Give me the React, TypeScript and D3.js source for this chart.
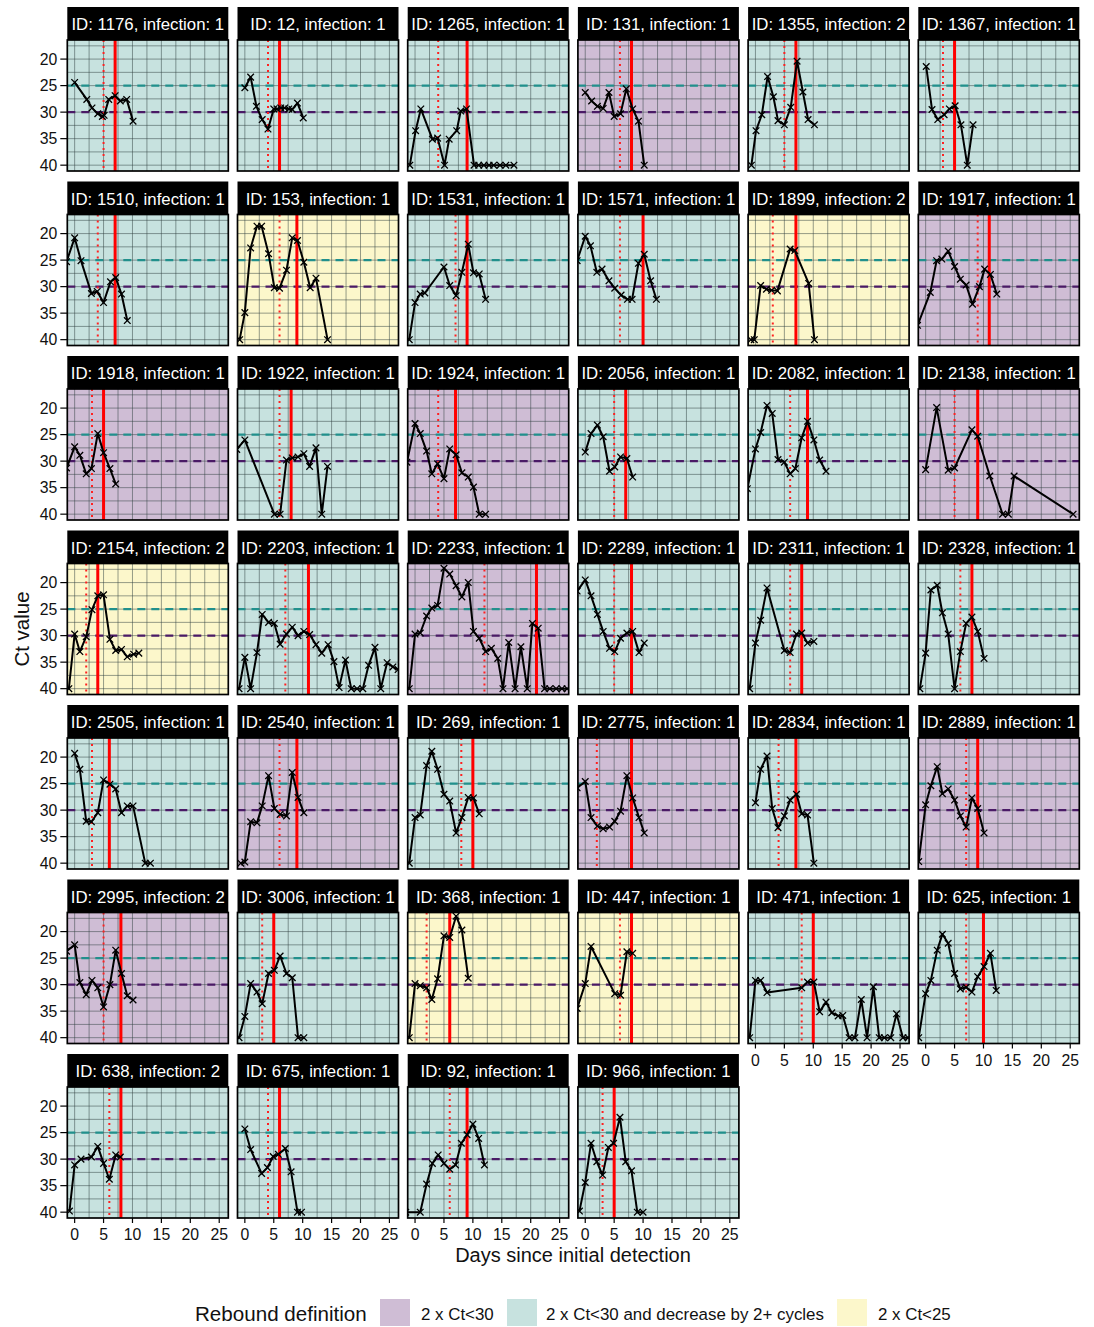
import React from 'react';
import * as d3 from 'd3';

// facet order, left to right, top to bottom
const ids = ['1176', '12', '1265', '131', '1355', '1367',
  '1510', '153', '1531', '1571', '1899', '1917',
  '1918', '1922', '1924', '2056', '2082', '2138',
  '2154', '2203', '2233', '2289', '2311', '2328',
  '2505', '2540', '269', '2775', '2834', '2889',
  '2995', '3006', '368', '447', '471', '625',
  '638', '675', '92', '966'];

const infections = [1, 1, 1, 1, 2, 1,
  1, 1, 1, 1, 2, 1,
  1, 1, 1, 1, 1, 1,
  2, 1, 1, 1, 1, 1,
  1, 1, 1, 1, 1, 1,
  2, 1, 1, 1, 1, 1,
  2, 1, 1, 1];

// P = 2 x Ct<30, D = 2 x Ct<30 and decrease by 2+ cycles, Y = 2 x Ct<25
const rebound = ['D', 'D', 'D', 'P', 'D', 'D',
  'D', 'Y', 'D', 'D', 'Y', 'P',
  'P', 'D', 'P', 'D', 'D', 'P',
  'Y', 'D', 'P', 'D', 'D', 'D',
  'D', 'P', 'D', 'P', 'D', 'P',
  'P', 'D', 'Y', 'Y', 'D', 'D',
  'D', 'D', 'D', 'D'];

const dottedDay = [5, 4, 4, 6, 5, 3,
  4, 6, 7, 6, 3, 9,
  3, 6, 4, 5, 6, 5,
  2, 7, 12, 5, 6, 6,
  3, 6, 8, 2, 4, 7,
  5, 3, 2, 6, 8, 7,
  6, 4, 6, 3];

const solidDay = [7, 6, 9, 8, 7, 5,
  7, 9, 9, 10, 7, 11,
  5, 8, 7, 7, 9, 9,
  4, 11, 21, 8, 8, 8,
  6, 9, 10, 8, 7, 9,
  8, 5, 6, 8, 10, 10,
  8, 6, 9, 5];

// [day, Ct] per facet
const series: [number, number][][] = [
  [[0, 24.4], [2.1, 27.6], [3, 29.2], [4, 30.3], [4.8, 30.8], [5.1, 30.6], [5.9, 27.6], [7, 26.9], [7.9, 27.9], [9, 27.6], [10.1, 31.7]],
  [[0, 25.4], [1, 23.4], [2, 28.9], [3, 31.4], [4, 33.2], [5, 29.4], [5.6, 29.4], [6.2, 29.2], [6.9, 29.2], [7.6, 29.4], [8.2, 29.5], [9.1, 28.3], [10.1, 31.1]],
  [[-0.9, 40], [0.1, 33.5], [1, 29.4], [3, 35.1], [3.9, 34.9], [5.1, 40], [5.9, 35.1], [7.2, 33.5], [7.9, 29.8], [8.9, 29.4], [10.2, 40], [11, 40], [11.9, 40], [12.8, 40], [13.6, 40], [14.7, 40], [15.7, 40], [17.1, 40]],
  [[0, 26.3], [1.1, 27.9], [2.1, 28.9], [3.1, 29.3], [4.1, 26.3], [5, 30.8], [6.1, 30.3], [7.1, 25.6], [8.2, 29.4], [9.2, 31.7], [10.2, 40]],
  [[-0.7, 40], [0.1, 33.5], [1.1, 30.5], [2.1, 23.3], [3.1, 27.1], [3.9, 31.6], [5, 32.4], [6.1, 29.1], [7.2, 20.4], [8.2, 26.2], [9.1, 31.4], [10.2, 32.4]],
  [[0.1, 21.4], [1.1, 29.5], [2.1, 31.4], [3.2, 30.5], [4.1, 29.4], [5.1, 28.8], [6.1, 32.4], [7.2, 40], [8.2, 32.4]],

  [[-1.4, 25.3], [0, 20.8], [1.1, 25.1], [2.9, 31.3], [3.9, 30.9], [5, 33], [6.2, 29.1], [7.1, 28.3], [8.1, 31.4], [9.1, 36.4]],
  [[-0.9, 40], [0, 34.9], [1, 22.7], [2.1, 18.6], [2.9, 18.6], [4.1, 23.8], [5.1, 30.2], [6, 30.3], [7.2, 26.9], [8.2, 20.8], [9.1, 21.3], [10.2, 25.4], [11.3, 30.2], [12.3, 28.4], [14.3, 40]],
  [[-1, 40], [0, 33], [0.9, 31.4], [1.7, 31.2], [5, 26.3], [6, 29.8], [7.1, 31.7], [8.1, 27.3], [9.2, 22], [10.1, 27.4], [11.1, 27.6], [12.2, 32.4]],
  [[-1.4, 25.1], [0, 20.5], [0.9, 22.3], [2, 27.3], [2.9, 26.7], [4.1, 28.9], [5.1, 30.3], [6.2, 31.6], [7.3, 32.4], [8.1, 32.4], [9.2, 25.6], [10.2, 23.9], [11.3, 28.9], [12.3, 32.4]],
  [[-0.8, 40], [-0.2, 40], [0.9, 29.8], [1.9, 30.5], [2.8, 30.7], [3.8, 30.8], [6, 22.9], [6.8, 23.2], [9.2, 29.4], [10.2, 40]],
  [[-1.4, 37.3], [0.8, 31.1], [1.9, 25.1], [2.8, 24.8], [3.9, 23.3], [5, 26.2], [6, 28.6], [7, 29.7], [8.1, 33.3], [9.3, 30], [10.2, 26.7], [11.2, 27.7], [12.3, 31.4]],

  [[-1.4, 31.3], [0, 27.3], [0.9, 28.9], [2, 32.4], [2.9, 31.4], [4, 24.8], [5, 28.4], [6.1, 31.4], [7.1, 34.3]],
  [[-1.4, 27.8], [0, 26], [5.1, 40], [6.1, 40], [7.2, 29.8], [8.2, 29.4], [9.2, 29.2], [10.2, 28.6], [11.2, 31], [12.3, 27.5], [13.3, 40], [14.3, 31]],
  [[-1.4, 30.2], [0, 22.9], [0.9, 24.8], [2, 28.1], [2.9, 32.4], [3.9, 30.5], [5, 33.3], [6, 27.7], [7.1, 28.8], [8.1, 32.2], [9.2, 33], [10.1, 34.9], [11.1, 40], [12.2, 40]],
  [[0, 28.3], [1, 24.8], [2.1, 23.2], [3.1, 25.4], [4.2, 31.9], [5.1, 31.1], [6.1, 29.2], [7.2, 29.5], [8.2, 33]],
  [[-1.4, 35.2], [0, 27.7], [0.9, 24.6], [2, 19.5], [2.9, 21], [3.9, 29.7], [5, 30.2], [6, 32.4], [6.9, 31.4], [8, 25.6], [9, 22.5], [10.1, 26], [11.1, 29.8], [12.2, 31.9]],
  [[0, 31.6], [1.9, 19.9], [3.9, 31.7], [5, 31.3], [8, 24.1], [9, 25.3], [11.1, 32.8], [13.3, 40], [14.3, 40], [15.3, 32.8], [25.5, 40]],

  [[-1, 40], [0, 29.7], [0.9, 33], [2, 30.2], [3, 25.1], [4, 22.5], [5, 22.3], [6.1, 30.7], [7.1, 32.8], [8.1, 32.6], [9.1, 34], [10.2, 33.5], [11.1, 33.3]],
  [[-1, 40], [0, 34.1], [1, 40], [2.1, 33.2], [3, 26], [4.1, 27.5], [5.1, 27.7], [6.1, 31.6], [7.2, 29.7], [8.2, 28.4], [9.2, 30], [10.2, 29.2], [11.2, 29.8], [12.3, 31.7], [13.3, 33.3], [14.4, 31.7], [15.4, 34.9], [16.3, 39.8], [17.4, 34.6], [18.4, 40], [19.4, 40], [20.4, 40], [21.4, 35.6], [22.5, 32.2], [23.5, 40], [24.6, 35.1], [25.6, 35.9], [26.5, 36.4]],
  [[-1, 40], [0, 29.7], [0.9, 29.5], [2, 26.3], [2.9, 24.8], [3.9, 24.3], [5, 17.3], [6, 18.4], [7.1, 20.6], [8.1, 22.7], [9.2, 20], [10.1, 29.2], [11.1, 30.5], [12.2, 33], [13.2, 32.4], [14.3, 34.3], [15.2, 40], [16.2, 31.3], [17.3, 40], [18.3, 32.1], [19.4, 40], [20.3, 27.7], [21.3, 28.6], [22.4, 40], [23.3, 40], [24.4, 40], [25.4, 40], [26.3, 40]],
  [[-1.4, 21.6], [0, 19.5], [1, 22.5], [2.1, 26], [3.1, 29.2], [4.2, 32.4], [5.1, 33], [6.1, 30.5], [7.2, 29.5], [8.2, 29.2], [9.3, 33.2], [10.2, 31.4]],
  [[-1, 40], [0, 31.4], [0.9, 27.1], [2, 21], [5, 32.8], [6, 33.2], [7.1, 29.7], [8, 29.5], [9, 31.4], [10.1, 31.1]],
  [[-1, 40], [0, 33.3], [0.9, 21.4], [2, 20.5], [2.9, 25.7], [3.9, 29.7], [5, 40], [6, 33], [7, 27.7], [8, 26.5], [9, 29.2], [10.1, 34.3]],

  [[0, 19.3], [0.9, 22.3], [2, 32.1], [2.9, 32.2], [4, 30.5], [5, 24.3], [6.1, 25.1], [7.1, 26], [8.1, 30.5], [9.1, 29.2], [10.1, 29.2], [12.2, 40], [13.1, 40]],
  [[-0.7, 40], [0, 39.8], [1, 32.2], [2.1, 32.4], [3, 29.2], [4.1, 23.5], [5.1, 29.7], [6.1, 30.8], [7.2, 31.1], [8.2, 22.9], [9.2, 27.6], [10.2, 30.5]],
  [[-1, 40], [0, 31.4], [0.9, 30.9], [2, 21.6], [2.9, 18.9], [3.9, 22.3], [5, 27], [6, 28.3], [7.1, 34.3], [8.1, 31.4], [9.2, 27.6], [10.1, 27.7], [11.1, 30.7]],
  [[-1.4, 25.8], [0, 24.6], [1, 31.4], [2.1, 33], [3.1, 33.5], [4.2, 33.2], [5.1, 32.1], [6.1, 30.2], [7.2, 23.5], [8.2, 27.7], [9.3, 31.4], [10.2, 34.3]],
  [[0, 28.6], [0.9, 22.3], [2, 19.8], [2.9, 29.7], [3.9, 33.3], [5, 31.1], [6, 28.1], [7.1, 27], [8, 30.7], [9, 30.9], [10.1, 40]],
  [[-1.2, 39.7], [0, 29], [0.9, 25.4], [2, 21.8], [2.9, 26.9], [3.9, 26], [5, 28.1], [6, 31.1], [7, 33.2], [8, 27.7], [9, 29.7], [10.1, 34.3]],

  [[-1.4, 23.7], [0, 22.5], [0.9, 29.6], [2, 31.9], [3, 29.2], [4, 30.6], [5, 34.2], [6.1, 30], [7.1, 23.5], [8.1, 27.9], [9.1, 32.1], [10.1, 32.9]],
  [[-1, 40], [0, 36], [1, 29.8], [2.1, 31.4], [3, 33.6], [4.1, 27.9], [5.1, 27.3], [6.1, 24.6], [7.2, 27.9], [8.2, 28.7], [9.2, 40], [10.2, 40]],
  [[-1, 40], [0, 29.8], [0.9, 30.2], [2, 30.6], [2.9, 32.8], [3.9, 28.9], [5, 20.8], [6, 21.1], [7.1, 17.1], [8.1, 19.7], [9.2, 28.8]],
  [[-1.4, 34.5], [0, 29.8], [1, 22.8], [5.1, 31.7], [6.1, 32], [7.2, 23.8], [8.2, 24.1]],
  [[-1, 40], [0, 29.2], [0.9, 29.2], [2, 31.5], [8, 30.6], [9, 29.5], [10.1, 29.5], [11.1, 35.1], [12.2, 33.3], [13.2, 35.3], [14.3, 35.9], [15.1, 35.8], [16.2, 40], [17.2, 40], [18.3, 32.8], [19.3, 40], [20.4, 30.4], [21.4, 40], [22.3, 40], [23.4, 40], [24.4, 35.5], [25.5, 40], [26.4, 40]],
  [[-1.2, 40], [0, 31.7], [0.9, 29.2], [2, 23.5], [2.9, 20.5], [3.9, 22.2], [5, 27.9], [6, 30.8], [7, 30.5], [8, 31.4], [9, 28.5], [10.1, 26.6], [11.2, 24.1], [12.2, 31.1]],

  [[-0.9, 39.8], [0, 31.1], [1.1, 30], [2.9, 29.6], [4, 27.6], [5, 30.8], [6, 33.8], [7.1, 29.2], [7.9, 29.6]],
  [[0, 24.3], [1, 28.2], [2.9, 32.7], [3.9, 31.6], [4.9, 29.5], [5.8, 29.1], [7, 28], [8, 32.4], [9.1, 40], [9.8, 40]],
  [[-1.6, 40], [0.9, 40], [2, 34.7], [3, 30.8], [4, 29.2], [5, 30.8], [6, 31.9], [7, 31.1], [8, 27], [9, 25.4], [10, 23.4], [11, 26.1], [12, 31.1]],
  [[-1, 39.8], [0, 34.4], [1, 27], [2, 30.5], [3, 33], [4, 27.8], [4.9, 27], [6, 22.1], [7, 30.5], [8, 32.2], [9, 40], [10, 40]],
];

const xTicks = [0, 5, 10, 15, 20, 25];
const yTicks = [20, 25, 30, 35, 40];
const xGrid = d3.range(0, 25.01, 2.5);
const yGrid = d3.range(17.5, 40.01, 2.5);

const legendKeys = ['P', 'D', 'Y'];
const legendLabels = ['2 x Ct<30', '2 x Ct<30 and decrease by 2+ cycles', '2 x Ct<25'];

const fillOf: Record<string, string> = { P: '#cfbdd5', D: '#c7e2df', Y: '#fcf7cb' };

const W = 1094;
const H = 1327;
const PW = 161;
const PH = 131;
const STRIP = 33;
const X0 = 67.3;
const Y0 = 40;
const DX = 170.2;
const DY = 174.5;
const NCOL = 6;
const FONT = '"Liberation Sans", Arial, Helvetica, sans-serif';

const xScale = d3.scaleLinear().domain([-1.27, 26.57]).range([0, PW]);
const yScale = d3.scaleLinear().domain([16.4, 41.1]).range([0, PH]);
const line = d3.line<[number, number]>().x(d => xScale(d[0])).y(d => yScale(d[1]));

const nRows = Math.ceil(ids.length / NCOL);
// last panel in each column carries the x axis
const bottomRow = (c: number) => {
  let r = nRows - 1;
  while (r * NCOL + c >= ids.length) r--;
  return r;
};

const Panel = ({ i }: { i: number }) => {
  const c = i % NCOL;
  const r = Math.floor(i / NCOL);
  const left = X0 + c * DX;
  const top = Y0 + r * DY;
  const pts = series[i];
  return (
    <g transform={`translate(${left},${top})`}>
      <rect x={0} y={-STRIP} width={PW} height={STRIP} fill="#000" />
      <text x={PW / 2} y={-10} textAnchor="middle" fill="#fff" fontSize={16.8}>
        {`ID: ${ids[i]}, infection: ${infections[i]}`}
      </text>
      <rect x={0} y={0} width={PW} height={PH} fill={fillOf[rebound[i]]} />
      <g clipPath="url(#panelClip)">
        {xGrid.map(v => (
          <line key={'gx' + v} x1={xScale(v)} x2={xScale(v)} y1={0} y2={PH} stroke="#2f3f3f" strokeOpacity={0.5} strokeWidth={1} />
        ))}
        {yGrid.map(v => (
          <line key={'gy' + v} x1={0} x2={PW} y1={yScale(v)} y2={yScale(v)} stroke="#2f3f3f" strokeOpacity={0.5} strokeWidth={1} />
        ))}
        <line x1={0} x2={PW} y1={yScale(25)} y2={yScale(25)} stroke="#21908c" strokeWidth={2.4} strokeDasharray="8 6" />
        <line x1={0} x2={PW} y1={yScale(30)} y2={yScale(30)} stroke="#4a1a66" strokeWidth={2.4} strokeDasharray="8 6" />
        <line x1={xScale(dottedDay[i])} x2={xScale(dottedDay[i])} y1={0} y2={PH} stroke="#ff2020" strokeWidth={2} strokeDasharray="2 4" />
        <line x1={xScale(solidDay[i])} x2={xScale(solidDay[i])} y1={0} y2={PH} stroke="#ff0000" strokeWidth={3} />
        <path d={line(pts) ?? ''} fill="none" stroke="#000" strokeWidth={2} strokeLinejoin="round" />
        {pts.map((p, k) => (
          <path key={k} transform={`translate(${xScale(p[0])},${yScale(p[1])})`} d="M-3.3,-3.3L3.3,3.3M-3.3,3.3L3.3,-3.3" stroke="#000" strokeWidth={1.3} />
        ))}
      </g>
      <rect x={0} y={0} width={PW} height={PH} fill="none" stroke="#000" strokeWidth={1.7} />
      {c === 0 && yTicks.map(v => (
        <g key={'yt' + v}>
          <line x1={-7} x2={0} y1={yScale(v)} y2={yScale(v)} stroke="#000" strokeWidth={1.2} />
          <text x={-10} y={yScale(v)} dy="0.36em" textAnchor="end" fontSize={15.8} fill="#111">{v}</text>
        </g>
      ))}
      {r === bottomRow(c) && xTicks.map(v => (
        <g key={'xt' + v}>
          <line x1={xScale(v)} x2={xScale(v)} y1={PH} y2={PH + 5} stroke="#000" strokeWidth={1.2} />
          <text x={xScale(v)} y={PH + 22} textAnchor="middle" fontSize={15.8} fill="#111">{v}</text>
        </g>
      ))}
    </g>
  );
};

export default function App() {
  const legendBoxX = [380, 507, 837];
  const legendTextX = [421, 546, 878];
  return (
    <svg width={W} height={H} style={{ position: 'absolute', left: 0, top: 0, background: '#fff' }} fontFamily={FONT}>
      <defs>
        <clipPath id="panelClip">
          <rect x={0} y={0} width={PW} height={PH} />
        </clipPath>
      </defs>
      {ids.map((_, i) => <Panel key={ids[i]} i={i} />)}
      <text transform="translate(29,629) rotate(-90)" textAnchor="middle" fontSize={20.5} fill="#111">Ct value</text>
      <text x={573} y={1262} textAnchor="middle" fontSize={20} fill="#111">Days since initial detection</text>
      <text x={195} y={1321} fontSize={20.6} fill="#111">Rebound definition</text>
      {legendKeys.map((k, j) => (
        <g key={k}>
          <rect x={legendBoxX[j]} y={1299} width={30} height={27} fill={fillOf[k]} />
          <text x={legendTextX[j]} y={1320} fontSize={16.9} fill="#111">{legendLabels[j]}</text>
        </g>
      ))}
    </svg>
  );
}
